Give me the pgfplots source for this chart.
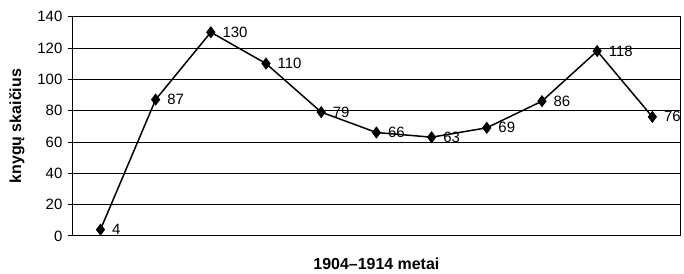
\documentclass[border=0pt]{standalone}
\usepackage{pgfplots}
\pgfplotsset{compat=1.18}
\usepackage{fontspec}
\setmainfont{Liberation Sans}
\begin{document}
\begin{tikzpicture}
\begin{axis}[
  scale only axis,
  width=609pt, height=220pt,
  xmin=0, xmax=11,
  ymin=0, ymax=140,
  ytick={0,20,...,140},
  xtick=\empty,
  ymajorgrids,
  grid style={black, line width=0.8pt},
  axis line style={black, line width=0.9pt},
  tick style={black, line width=0.8pt},
  ytick pos=left,
  tick align=outside,
  major tick length=5pt,
  /pgf/number format/assume math mode=true,
  tick label style={font=\fontsize{15}{17}\selectfont},
  yticklabel style={xshift=-2pt},
  ylabel={\bfseries knygų skaičius},
  ylabel style={font=\fontsize{16}{18}\selectfont, yshift=6pt},
  xlabel={\bfseries 1904–1914 metai},
  xlabel style={font=\fontsize{16}{18}\selectfont, yshift=-14pt},
  nodes near coords,
  every node near coord/.append style={font=\fontsize{15}{17}\selectfont, anchor=west, xshift=8pt, yshift=0pt},
]
\addplot[black, line width=1.5pt, mark=diamond*, mark size=5.5pt, mark options={fill=black, line width=0.8pt}]
coordinates {(0.5,4) (1.5,87) (2.5,130) (3.5,110) (4.5,79) (5.5,66) (6.5,63) (7.5,69) (8.5,86) (9.5,118) (10.5,76)};
\end{axis}
\path (current bounding box.north west) ++(-6pt,8pt);
\end{tikzpicture}
\end{document}
